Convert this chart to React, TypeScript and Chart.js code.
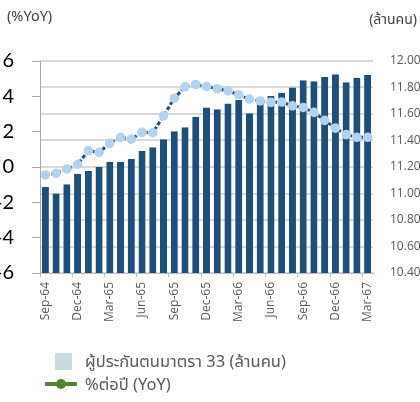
import React, { useEffect, useRef } from "react";
import { Chart, registerables } from "chart.js";

Chart.register(...registerables);

const months: string[] = [
  "Sep-64", "Oct-64", "Nov-64", "Dec-64", "Jan-65", "Feb-65", "Mar-65", "Apr-65",
  "May-65", "Jun-65", "Jul-65", "Aug-65", "Sep-65", "Oct-65", "Nov-65", "Dec-65",
  "Jan-66", "Feb-66", "Mar-66", "Apr-66", "May-66", "Jun-66", "Jul-66", "Aug-66",
  "Sep-66", "Oct-66", "Nov-66", "Dec-66", "Jan-67", "Feb-67", "Mar-67",
];

// ผู้ประกันตนมาตรา 33 (ล้านคน) – right axis
const insured: number[] = [
  11.05, 11.0, 11.07, 11.15, 11.17, 11.2, 11.24, 11.24, 11.26, 11.32, 11.35,
  11.41, 11.47, 11.5, 11.58, 11.65, 11.635, 11.68, 11.705, 11.605, 11.68, 11.736,
  11.76, 11.8, 11.855, 11.847, 11.88, 11.9, 11.84, 11.874, 11.895,
];

// %ต่อปี (YoY) – left axis
const yoy: number[] = [
  -0.45, -0.36, -0.11, 0.15, 0.92, 0.83, 1.34, 1.68, 1.58, 1.96, 1.94, 2.9,
  3.89, 4.54, 4.67, 4.56, 4.43, 4.31, 4.09, 3.84, 3.74, 3.66, 3.68, 3.46, 3.37,
  3.09, 2.64, 2.2, 1.83, 1.68, 1.68,
];

const leftTicks = { min: -6, max: 6, step: 2 };
const rightTicks = { min: 10.4, max: 12.0, step: 0.2 };

const labelFont = "'Open Sans', 'Noto Sans', sans-serif";

export default function App() {
  const ref = useRef<HTMLCanvasElement | null>(null);

  useEffect(() => {
    if (!ref.current) return;
    const chart = new Chart(ref.current, {
      type: "bar",
      data: {
        labels: months,
        datasets: [
          {
            type: "line",
            label: "%ต่อปี (YoY)",
            data: yoy,
            yAxisID: "y",
            borderColor: "#1f4e79",
            borderWidth: 3,
            borderDash: [4, 2],
            pointRadius: 4.8,
            pointBackgroundColor: "#b4d2ee",
            pointBorderColor: "#b4d2ee",
            pointBorderWidth: 0,
            tension: 0,
            order: 0,
          } as any,
          {
            type: "bar",
            label: "ผู้ประกันตนมาตรา 33 (ล้านคน)",
            data: insured,
            yAxisID: "y1",
            backgroundColor: "#1f4e79",
            borderColor: "#9dc3e6",
            borderWidth: { top: 0, left: 0, right: 0, bottom: 1 },
            borderSkipped: false,
            barPercentage: 0.66,
            categoryPercentage: 1,
            order: 1,
          } as any,
        ],
      },
      options: {
        animation: false,
        responsive: false,
        layout: { padding: { top: 61, bottom: 79, left: 0, right: 0 } },
        plugins: { legend: { display: false }, tooltip: { enabled: false } },
        scales: {
          x: {
            offset: true,
            grid: {
              display: true,
              drawOnChartArea: false,
              drawTicks: true,
              tickLength: 4,
              offset: true,
              color: (c: any) => (c.index % 3 === 0 ? "#bfbfbf" : "rgba(0,0,0,0)"),
            },
            border: { display: true, color: "#bfbfbf", width: 1 },
            ticks: {
              autoSkip: false,
              minRotation: 90,
              maxRotation: 90,
              padding: 5,
              color: "#595959",
              font: { family: labelFont, size: 12 },
              callback: (_v: any, i: number) => (i % 3 === 0 ? months[i] : ""),
            },
            afterFit: (s: any) => {
              s.height = 50;
            },
          },
          y: {
            position: "left",
            min: leftTicks.min,
            max: leftTicks.max,
            grid: {
              display: true,
              drawOnChartArea: false,
              drawTicks: true,
              tickLength: 8,
              color: "#a6a6a6",
            },
            border: { display: true, color: "#a6a6a6", width: 1 },
            ticks: {
              stepSize: leftTicks.step,
              padding: 18,
              color: "#000000",
              font: { family: "Lato, 'Open Sans', sans-serif", size: 20 },
            },
            afterFit: (s: any) => {
              s.width = 40;
            },
          },
          y1: {
            position: "right",
            min: rightTicks.min,
            max: rightTicks.max,
            grid: {
              display: true,
              drawOnChartArea: true,
              drawTicks: false,
              color: "#d9d9d9",
              lineWidth: 2,
            },
            border: { display: false },
            ticks: {
              stepSize: rightTicks.step,
              padding: 17,
              color: "#595959",
              font: { family: labelFont, size: 12 },
              callback: (v: any) => Number(v).toFixed(2),
            },
            afterFit: (s: any) => {
              s.width = 47;
            },
          },
        },
      },
    });
    return () => chart.destroy();
  }, []);

  const thaiFont = "'Noto Sans Thai', 'Leelawadee UI', Tahoma, 'Open Sans', 'Noto Sans', sans-serif";

  return (
    <div
      style={{
        position: "absolute",
        left: 0,
        top: 0,
        width: 420,
        height: 402,
        overflow: "hidden",
        background: "#ffffff",
      }}
    >
      <canvas ref={ref} width={420} height={402} style={{ position: "absolute", left: 0, top: 0 }} />
      <div
        style={{
          position: "absolute",
          left: 7,
          top: 7,
          fontFamily: thaiFont,
          fontSize: 14.5,
          color: "#404040",
          lineHeight: "20px",
        }}
      >
        (%YoY)
      </div>
      <div
        style={{
          position: "absolute",
          right: 3,
          top: 9,
          fontFamily: thaiFont,
          fontSize: 14,
          color: "#404040",
          lineHeight: "22px",
        }}
      >
        (ล้านคน)
      </div>
      <div style={{ position: "absolute", left: 55, top: 353, width: 17, height: 17, background: "#c9dcdc" }} />
      <div
        style={{
          position: "absolute",
          left: 85,
          top: 350,
          fontFamily: thaiFont,
          fontSize: 16.5,
          color: "#595959",
          lineHeight: "24px",
          whiteSpace: "nowrap",
        }}
      >
        ผู้ประกันตนมาตรา 33 (ล้านคน)
      </div>
      <div style={{ position: "absolute", left: 45, top: 382, width: 32, height: 4, background: "#548235" }} />
      <div
        style={{
          position: "absolute",
          left: 56,
          top: 379,
          width: 10,
          height: 10,
          borderRadius: 5,
          background: "#548235",
        }}
      />
      <div
        style={{
          position: "absolute",
          left: 85,
          top: 373,
          fontFamily: thaiFont,
          fontSize: 16.5,
          color: "#595959",
          lineHeight: "24px",
          whiteSpace: "nowrap",
        }}
      >
        %ต่อปี (YoY)
      </div>
    </div>
  );
}
